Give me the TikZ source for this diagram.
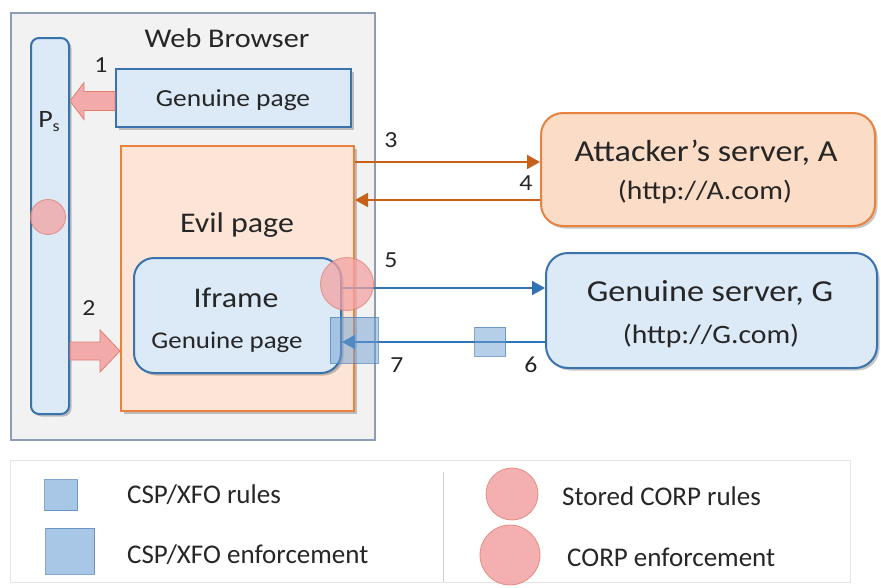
\documentclass[tikz,border=0pt]{standalone}
\usepackage{fontspec}
\setmainfont{Carlito}[FakeStretch=1.12]
\newfontfamily\legendfont{Carlito}
\usetikzlibrary{arrows.meta,shadows,calc}
\definecolor{wbfill}{HTML}{F2F2F2}
\definecolor{wbdraw}{HTML}{8C9DB5}
\definecolor{bluefill}{HTML}{DCE9F6}
\definecolor{bluedraw}{HTML}{3A72AE}
\definecolor{evilfill}{HTML}{FCE5D6}
\definecolor{attfill}{HTML}{FBDCC6}
\definecolor{orangedraw}{HTML}{E8823E}
\definecolor{orangearr}{HTML}{C8601A}
\definecolor{bluearr}{HTML}{2F74B5}
\definecolor{pinkfill}{HTML}{F3A3A3}
\definecolor{pinkdraw}{HTML}{E07E70}
\definecolor{sqfill}{HTML}{6FA0D4}
\definecolor{sqdraw}{HTML}{4F82BD}
\definecolor{legdraw}{HTML}{E4E4E4}
\tikzset{
  shad/.style={drop shadow={shadow xshift=2.5pt,shadow yshift=-2.5pt,opacity=0.22,fill=black}},
  bluebox/.style={draw=bluedraw,fill=bluefill,line width=2pt,anchor=north west,inner sep=0pt,shad},
  orangebox/.style={draw=orangedraw,line width=2pt,anchor=north west,inner sep=0pt,shad},
  lbl/.style={anchor=base,inner sep=0pt,text=black!85},
  num/.style={anchor=base,inner sep=0pt,font=\fontsize{23}{26}\selectfont,text=black!85},
  orarrow/.style={draw=orangearr,line width=2pt,-{Triangle[length=13pt,width=14pt]}},
  blarrow/.style={draw=bluearr,line width=2pt,-{Triangle[length=13pt,width=14pt]}},
  blockarr/.style={fill=pinkfill,draw=pinkdraw,line width=0.8pt,fill opacity=0.9},
  corp/.style={circle,fill=pinkfill,draw=pinkdraw,line width=0.8pt,fill opacity=0.75,draw opacity=0.8,inner sep=0pt},
  csp/.style={rectangle,fill=sqfill,draw=sqdraw,line width=0.8pt,fill opacity=0.5,draw opacity=0.7,inner sep=0pt},
  legtext/.style={anchor=base west,inner sep=0pt,font=\legendfont\fontsize{27}{30}\selectfont,text=black!85}
}
\begin{document}
\begin{tikzpicture}[x=1pt,y=-1pt]
\useasboundingbox (0,0) rectangle (881,587);
\fill[white] (0,0) rectangle (881,587);

% Web browser
\node[draw=wbdraw,fill=wbfill,line width=1.8pt,anchor=north west,inner sep=0pt,
      minimum width=364pt,minimum height=427pt] (wb) at (10,12) {};
\node[lbl,font=\fontsize{27}{30}\selectfont] (wbt) at (227,47) {Web Browser};

% Ps bar
\node[bluebox,rounded corners=8pt,minimum width=38pt,minimum height=376pt] (ps) at (30,37) {};
\node[lbl,font=\fontsize{25}{28}\selectfont] (pst) at (49,127) {P\raisebox{-0.35ex}{\fontsize{16}{18}\selectfont s}};
\node[corp,minimum size=35pt] (psc) at (48,217) {};

% Genuine page (top)
\node[bluebox,minimum width=235pt,minimum height=58pt] (gp) at (115,68) {};
\node[lbl,font=\fontsize{24.5}{28}\selectfont] (gpt) at (233,106) {Genuine page};

% Evil page
\node[orangebox,fill=evilfill,minimum width=233pt,minimum height=265pt] (ev) at (120,145) {};
\node[lbl,font=\fontsize{28.5}{32}\selectfont] (evt) at (237,232) {Evil page};

% Iframe
\node[bluebox,rounded corners=20pt,minimum width=207pt,minimum height=115pt] (ifr) at (133,257) {};
\node[lbl,font=\fontsize{28.5}{32}\selectfont] (ifrt) at (236,307) {Iframe};
\node[lbl,font=\fontsize{24}{28}\selectfont] (ifrg) at (227,348) {Genuine page};

% Attacker's server
\node[orangebox,fill=attfill,rounded corners=22pt,minimum width=334pt,minimum height=113pt] (att) at (540,112) {};
\node[lbl,font=\fontsize{30.5}{34}\selectfont] (attt) at (706,161) {Attacker’s server, A};
\node[lbl,font=\fontsize{26.5}{30}\selectfont] (atturl) at (705,199) {(http://A.com)};

% Genuine server
\node[bluebox,rounded corners=22pt,minimum width=331pt,minimum height=115pt] (gs) at (545,252) {};
\node[lbl,font=\fontsize{30.5}{34}\selectfont] (gst) at (710,301) {Genuine server, G};
\node[lbl,font=\fontsize{26.5}{30}\selectfont] (gsurl) at (711,343) {(http://G.com)};

% block arrows
\path[blockarr] (gp.west |- 0,91.5) -- (84,91.5) -- (84,82.5) -- (ps.east |- 0,101)
   -- (84,119.5) -- (84,110.5) -- (gp.west |- 0,110.5) -- cycle;
\path[blockarr] (ps.east |- 0,342) -- (100,342) -- (100,330) -- (ev.west |- 0,351)
   -- (100,372) -- (100,360) -- (ps.east |- 0,360) -- cycle;

% line arrows
\coordinate (a3s) at (ev.east |- 0,162);
\coordinate (a4e) at (ev.east |- 0,200);
\draw[orarrow] (a3s) -- (att.west |- a3s);
\draw[orarrow] (att.west |- a4e) -- (a4e);
\coordinate (a5s) at (ifr.east |- 0,288);
\coordinate (a7e) at (ifr.east |- 0,342);
\draw[blarrow] (a5s) -- (gs.west |- a5s);
\draw[blarrow] (gs.west |- a7e) -- (a7e);

% enforcement markers
\node[corp,minimum size=53pt] (ce) at (347,284) {};
\node[csp,minimum width=48pt,minimum height=46pt] (se) at (354,340) {};
\node[csp,minimum width=31pt,minimum height=29pt] (sr) at (490,341.5) {};

% numbers
\node[num] (n1) at (101,72) {1};
\node[num] (n2) at (89,315) {2};
\node[num] (n3) at (391,147) {3};
\node[num] (n4) at (526,190) {4};
\node[num] (n5) at (391,267) {5};
\node[num] (n6) at (531,372) {6};
\node[num] (n7) at (397,372) {7};

% legend
\node[draw=legdraw,line width=1pt,anchor=north west,inner sep=0pt,minimum width=840pt,minimum height=122pt] (leg) at (10,460) {};
\draw[legdraw!80!gray,line width=0.8pt] (443,472) -- (443,582);
\node[csp,fill opacity=0.6,minimum width=33pt,minimum height=31pt] (l1) at (61,495) {};
\node[csp,fill opacity=0.6,minimum width=49pt,minimum height=46pt] (l2) at (70,551) {};
\node[legtext] (l1t) at (127,503) {CSP/XFO rules};
\node[legtext] (l2t) at (127,563) {CSP/XFO enforcement};
\node[corp,fill opacity=0.85,minimum size=52pt] (l3) at (512,494) {};
\node[corp,fill opacity=0.85,minimum size=60pt] (l4) at (510,555) {};
\node[legtext] (l3t) at (562,505) {Stored CORP rules};
\node[legtext] (l4t) at (567,566) {CORP enforcement};
\end{tikzpicture}
\end{document}
